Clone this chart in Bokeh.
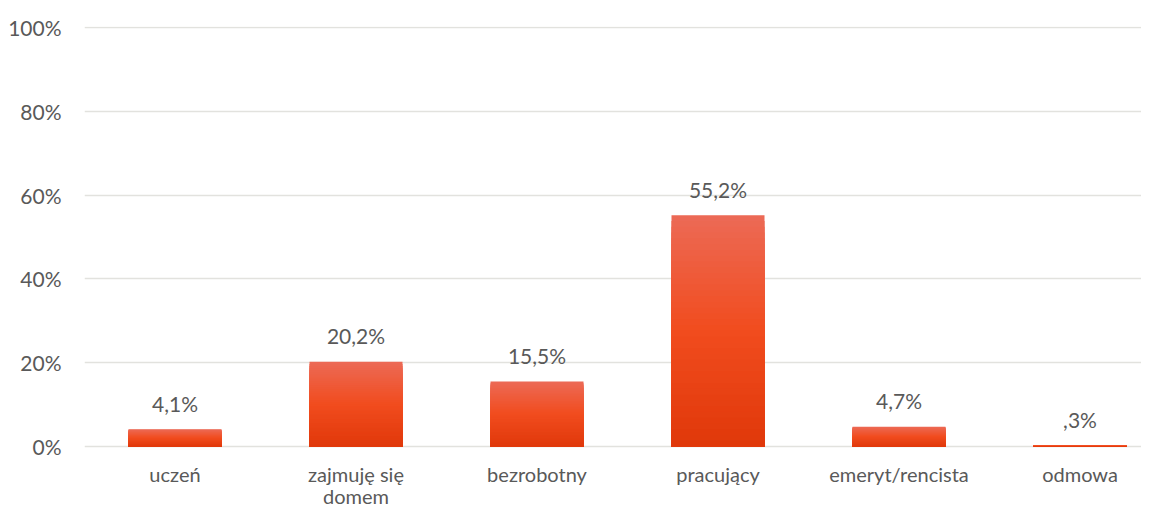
from bokeh.plotting import figure
from bokeh.models import ColumnDataSource, FixedTicker
from bokeh.embed import file_html
from bokeh.resources import INLINE
from bokeh.core.properties import value

categories = ["uczeń", "zajmuję się\ndomem", "bezrobotny", "pracujący", "emeryt/rencista", "odmowa"]
values = [4.1, 20.2, 15.5, 55.2, 4.7, 0.3]
value_labels = ["4,1%", "20,2%", "15,5%", "55,2%", "4,7%", ",3%"]
y_ticks = [0, 20, 40, 60, 80, 100]
y_tick_labels = ["0%", "20%", "40%", "60%", "80%", "100%"]

FONT = "Lato"
TXT = "#595959"
FS = "21px"

xs = list(range(len(categories)))

W, H = 1141, 506
LEFT, TOP = 84, 26
PX_PER_UNIT = 4.19
CAT_PX = 181.0
FRAME_H = H - TOP
FRAME_W = W - LEFT
y_end = 100 + 1 / PX_PER_UNIT
y_start = y_end - FRAME_H / PX_PER_UNIT
x_end = -0.5 + FRAME_W / CAT_PX

p = figure(width=W, height=H, output_backend="svg", toolbar_location=None,
           x_range=(-0.5, x_end), y_range=(y_start, y_end),
           min_border_left=LEFT, min_border_right=0, min_border_top=TOP, min_border_bottom=0)
p.outline_line_color = None
p.background_fill_color = "white"
p.border_fill_color = "white"
p.xaxis.visible = False

def lerp(c1, c2, t):
    return "#%02x%02x%02x" % tuple(int(round(a + (b - a) * t)) for a, b in zip(c1, c2))

top_c = (236, 106, 86)
mid_c = (241, 76, 30)
bot_c = (224, 56, 10)
N = 40
bx, bt, bc = [], [], []
for i in range(N - 1, -1, -1):
    frac = (i + 0.5) / N
    if frac < 0.5:
        col = lerp(bot_c, mid_c, frac / 0.5)
    else:
        col = lerp(mid_c, top_c, (frac - 0.5) / 0.5)
    for x, v in zip(xs, values):
        bx.append(x)
        bt.append(v * (i + 1) / N)
        bc.append(col)
src = ColumnDataSource(dict(x=bx, top=bt, color=bc))
p.vbar(x="x", bottom=0, top="top", width=93 / CAT_PX, fill_color="color", line_color=None, source=src)

lsrc = ColumnDataSource(dict(x=xs, y=values, t=value_labels))
p.text(x="x", y="y", text="t", source=lsrc, text_align="center", text_baseline="middle",
       y_offset=-26, text_font=value(FONT), text_font_size=FS, text_color=TXT)

cx, ct, coff = [], [], []
for x, c in zip(xs, categories):
    for j, line in enumerate(c.split("\n")):
        cx.append(x)
        ct.append(line)
        coff.append(27 + 22 * j)
csrc = ColumnDataSource(dict(x=cx, y=[0] * len(cx), t=ct, off=coff))
p.text(x="x", y="y", text="t", y_offset="off", source=csrc, text_align="center",
       text_baseline="middle", text_font=value(FONT), text_font_size="20px", text_color=TXT)

p.yaxis.ticker = FixedTicker(ticks=y_ticks)
p.yaxis.major_label_overrides = {t: l for t, l in zip(y_ticks, y_tick_labels)}
ax = p.yaxis[0]
ax.axis_line_color = None
ax.major_tick_line_color = None
ax.minor_tick_line_color = None
ax.major_tick_out = 0
ax.major_tick_in = 0
ax.major_label_text_font = FONT
ax.major_label_text_font_size = FS
ax.major_label_text_color = TXT
ax.major_label_standoff = 23

p.xgrid.grid_line_color = None
p.ygrid.grid_line_color = "#E2E2DE"
p.ygrid.grid_line_width = 1.6

open("out.html", "w").write(file_html(p, INLINE))
